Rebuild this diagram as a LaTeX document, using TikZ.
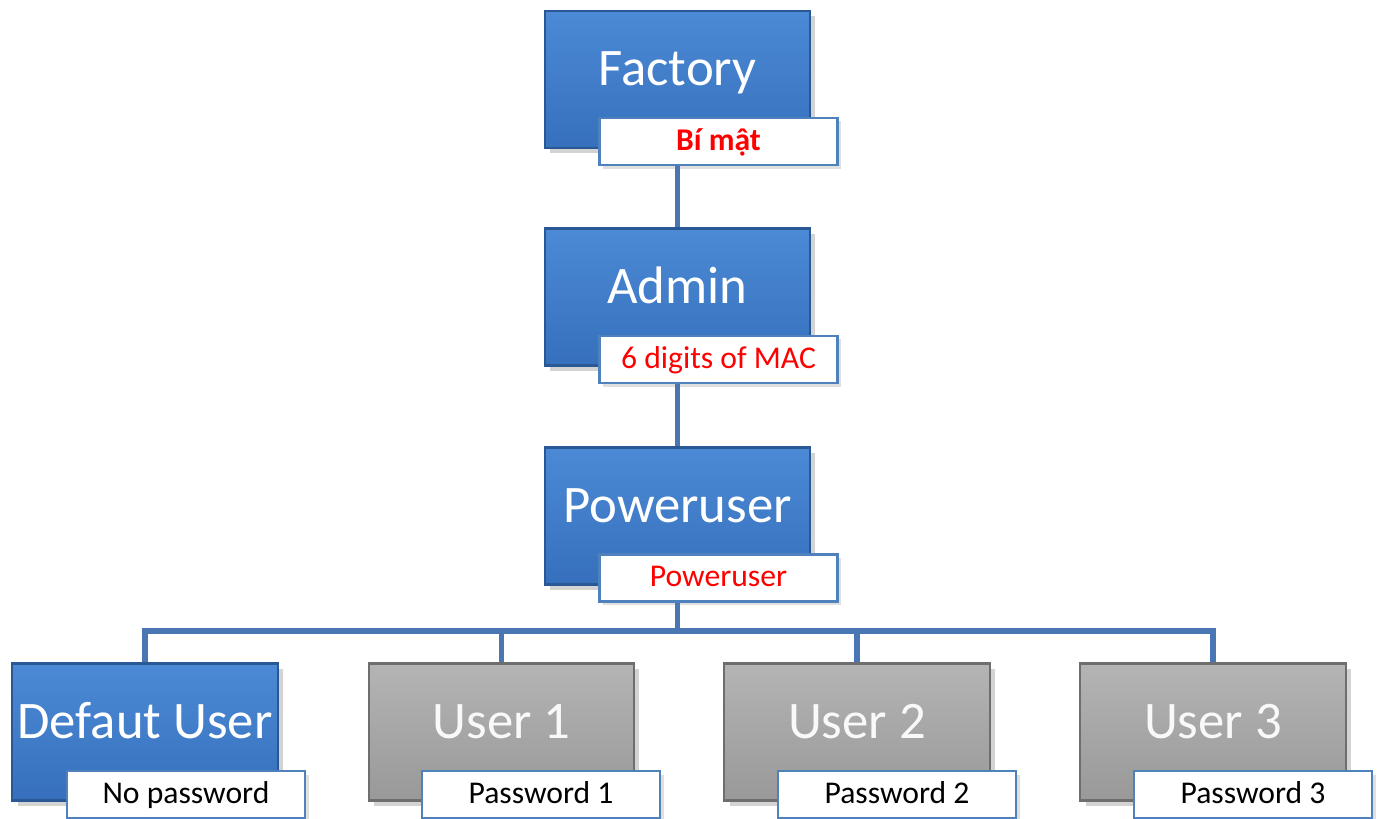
\documentclass[tikz,border=0pt]{standalone}
\usepackage{fontspec}
\setmainfont{Carlito}
\usetikzlibrary{shadows}
\definecolor{btop}{HTML}{4C8AD6}
\definecolor{bbot}{HTML}{3670BC}
\definecolor{bedge}{HTML}{2A5894}
\definecolor{gtop}{HTML}{B4B4B4}
\definecolor{gbot}{HTML}{999999}
\definecolor{gedge}{HTML}{6E6E6E}
\definecolor{conn}{HTML}{4A77B4}
\definecolor{lbledge}{HTML}{4F81BD}
\definecolor{lblred}{HTML}{FF0000}
\tikzset{
  mainbox/.style={rectangle, draw=bedge, line width=0.6pt, top color=btop, bottom color=bbot,
    minimum width=2.65cm, minimum height=1.37cm, inner sep=0pt, text=white,
    font=\fontsize{15}{18}\selectfont, text height=0.75em, text depth=0.4em,
    drop shadow={shadow xshift=1.5pt, shadow yshift=-1.5pt, opacity=0.35}},
  greybox/.style={mainbox, draw=gedge, top color=gtop, bottom color=gbot, text=white!95!gray},
  lblbox/.style={rectangle, draw=lbledge, line width=0.8pt, fill=white,
    minimum width=2.38cm, minimum height=0.47cm, inner sep=0pt,
    font=\fontsize{9}{11}\selectfont, text height=0.7em, text depth=0.2em,
    drop shadow={shadow xshift=1pt, shadow yshift=-1pt, opacity=0.25}},
  redlbl/.style={lblbox, text=lblred},
  wire/.style={draw=conn, line width=1.5pt}
}
\begin{document}
\begin{tikzpicture}[x=0.01cm, y=-0.01cm]
\useasboundingbox (0,0) rectangle (1379,819);
% nodes
\node[mainbox] (f) at (677.5,79.5) {Factory};
\node[mainbox] (a) at (677.5,297) {Admin};
\node[mainbox] (p) at (677.5,516) {Poweruser};
\node[mainbox] (u0) at (145,732) {Defaut User};
\node[greybox] (u1) at (501.5,732) {User 1};
\node[greybox] (u2) at (857,732) {User 2};
\node[greybox] (u3) at (1213,732) {User 3};
\coordinate (bus) at (677.5,631);
\node[redlbl, font=\fontsize{9}{11}\selectfont\bfseries] (fl) at (718.5,141.5) {Bí mật};
\node[redlbl] (al) at (718.5,359.5) {6 digits of MAC};
\node[redlbl] (pl) at (718.5,578) {Poweruser};
\node[lblbox] (l0) at (186,794.5) {No password};
\node[lblbox] (l1) at (541,794.5) {Password 1};
\node[lblbox] (l2) at (897,794.5) {Password 2};
\node[lblbox] (l3) at (1253,794.5) {Password 3};
\draw[wire] (fl.south -| f.south) -- (a.north);
\draw[wire] (al.south -| a.south) -- (p.north);
\draw[wire] (pl.south -| p.south) -- (bus);
\draw[wire] (u0.north) |- (bus) -| (u3.north);
\draw[wire] (u1.north) -- (u1.north |- bus);
\draw[wire] (u2.north) -- (u2.north |- bus);
\end{tikzpicture}
\end{document}
